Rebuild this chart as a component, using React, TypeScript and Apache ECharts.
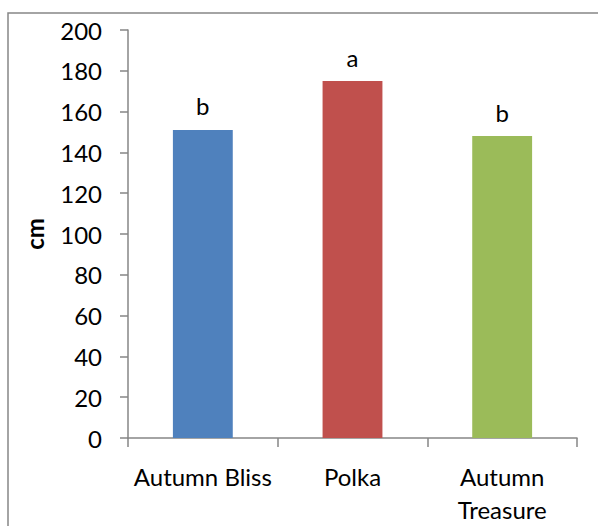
import React, { useEffect, useRef } from "react";
import * as echarts from "echarts";

const categories = ["Autumn Bliss", "Polka", "Autumn\nTreasure"];
const values = [151, 175, 148];
const letters = ["b", "a", "b"];
const colors = ["#4F81BD", "#C0504D", "#9BBB59"];
const yTicks = { min: 0, max: 200, interval: 20 };
const yName = "cm";

const FONT = "Lato, 'Open Sans', sans-serif";
const FS = 24;

export default function App() {
  const ref = useRef<HTMLDivElement>(null);
  useEffect(() => {
    if (!ref.current) return;
    const chart = echarts.init(ref.current, null, { renderer: "svg" });
    chart.setOption({
      animation: false,
      textStyle: { fontFamily: FONT },
      graphic: [
        {
          type: "rect",
          shape: { x: 8, y: 13, width: 700, height: 700 },
          style: { fill: "none", stroke: "#868686", lineWidth: 1.5 },
          silent: true,
        },
      ],
      grid: { left: 128, top: 30, right: 21, bottom: 85 },
      xAxis: {
        type: "category",
        data: categories,
        axisLine: { lineStyle: { color: "#868686", width: 1.5 } },
        axisTick: { show: true, length: 9, lineStyle: { color: "#868686", width: 1.5 } },
        axisLabel: {
          color: "#000",
          fontSize: FS,
          fontFamily: FONT,
          margin: 22,
          lineHeight: 33,
          interval: 0,
          hideOverlap: false,
        },
      },
      yAxis: {
        type: "value",
        min: yTicks.min,
        max: yTicks.max,
        interval: yTicks.interval,
        name: yName,
        nameLocation: "middle",
        nameGap: 82,
        nameRotate: 90,
        nameTextStyle: { color: "#000", fontSize: FS, fontWeight: "bold", fontFamily: FONT },
        axisLine: { show: true, lineStyle: { color: "#868686", width: 1.5 } },
        axisTick: { show: true, length: 8, lineStyle: { color: "#868686", width: 1.5 } },
        splitLine: { show: false },
        axisLabel: { color: "#000", fontSize: FS, fontFamily: FONT, margin: 26 },
      },
      series: [
        {
          type: "bar",
          barWidth: "40%",
          data: values.map((v, i) => ({ value: v, itemStyle: { color: colors[i] } })),
          label: {
            show: true,
            position: "top",
            distance: 12,
            color: "#000",
            fontSize: FS,
            fontFamily: FONT,
            formatter: (p: any) => letters[p.dataIndex],
          },
        },
      ],
    });
    return () => chart.dispose();
  }, []);
  return (
    <div
      ref={ref}
      style={{ position: "fixed", left: 0, top: 0, width: 598, height: 526, background: "#fff" }}
    />
  );
}
